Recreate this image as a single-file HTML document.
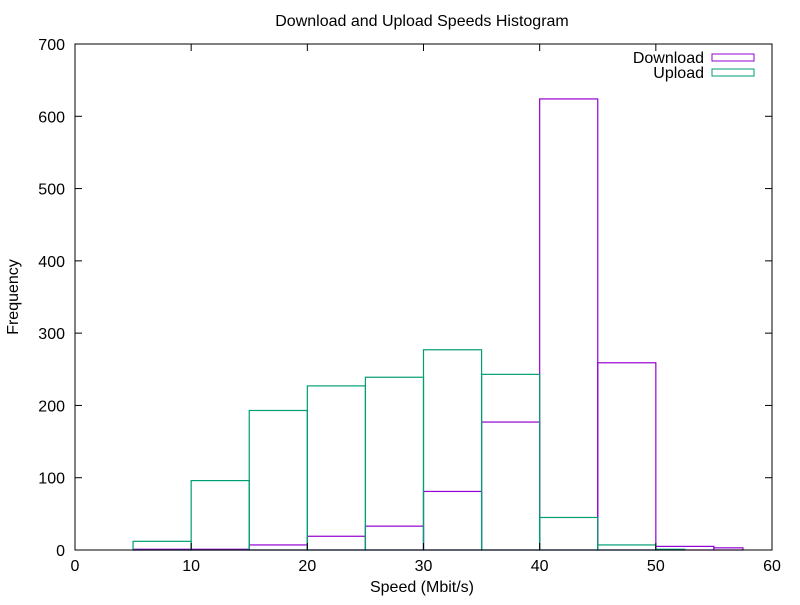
<!DOCTYPE html>
<html><head><meta charset="utf-8"><style>
body{margin:0;background:#fff}
svg text{font-family:"Liberation Sans",sans-serif;font-size:16px;fill:#000}
</style></head><body>
<svg width="800" height="600" xmlns="http://www.w3.org/2000/svg">
<rect width="800" height="600" fill="#fff"/>
<g id="marks"></g>
<g id="axes"></g>
<text x="422" y="26" text-anchor="middle">Download and Upload Speeds Histogram</text>
<text x="422" y="592" text-anchor="middle">Speed (Mbit/s)</text>
<text transform="translate(18,297) rotate(-90)" text-anchor="middle">Frequency</text>
<g>
<text x="704" y="63" text-anchor="end">Download</text>
<rect x="712" y="54" width="42" height="7" fill="none" stroke="#9400d3"/>
<text x="704" y="78" text-anchor="end">Upload</text>
<rect x="712" y="69" width="42" height="7" fill="none" stroke="#009e73"/>
</g>
</svg>
<script>
const dlStart=[5,10,15,20,25,30,35,40,45,50,55];
const dlEnd=[10,15,20,25,30,35,40,45,50,55,57.5];
const dlValues=[1,1,7,19,33,81,177,624,259,5,3];
const ulStart=[5,10,15,20,25,30,35,40,45,50];
const ulEnd=[10,15,20,25,30,35,40,45,50,52.5];
const ulValues=[12,96,193,227,239,277,243,45,7,1];
const xTicks=[0,10,20,30,40,50,60];
const yTicks=[0,100,200,300,400,500,600,700];
const X0=75,X1=772,Y0=550,Y1=44;
const sx=v=>X0+(v-0)/60*(X1-X0);
const sy=v=>Y0-(v/700)*(Y0-Y1);
const NS="http://www.w3.org/2000/svg";
const marks=document.getElementById('marks'),axes=document.getElementById('axes');
function drawSeries(st,en,vals,color,name){
  for(let i=0;i<vals.length;i++){
    const r=document.createElementNS(NS,'rect');
    const x=sx(st[i]),w=sx(en[i])-x,y=sy(vals[i]);
    r.setAttribute('x',x);r.setAttribute('y',y);r.setAttribute('width',w);r.setAttribute('height',Y0-y);
    r.setAttribute('fill','none');r.setAttribute('stroke',color);r.setAttribute('stroke-width','1.2');
    
    
    marks.appendChild(r);
  }
}
drawSeries(dlStart,dlEnd,dlValues,'#9400d3','download');
drawSeries(ulStart,ulEnd,ulValues,'#009e73','upload');
const frame=document.createElementNS(NS,'rect');
frame.setAttribute('x',X0);frame.setAttribute('y',Y1);frame.setAttribute('width',X1-X0);frame.setAttribute('height',Y0-Y1);
frame.setAttribute('fill','none');frame.setAttribute('stroke','#000');


axes.appendChild(frame);
function line(x1,y1,x2,y2){const l=document.createElementNS(NS,'line');l.setAttribute('x1',x1);l.setAttribute('y1',y1);l.setAttribute('x2',x2);l.setAttribute('y2',y2);l.setAttribute('stroke','#000');axes.appendChild(l);return l;}
function text(x,y,s,anchor){const t=document.createElementNS(NS,'text');t.setAttribute('x',x);t.setAttribute('y',y);t.setAttribute('text-anchor',anchor);t.textContent=s;axes.appendChild(t);return t;}
xTicks.forEach(v=>{const x=sx(v);
  const a=line(x,Y0,x,Y0-7);
  const b=line(x,Y1,x,Y1+7);
  const t=text(x,571,String(v),'middle');
  
  
});
yTicks.forEach(v=>{const y=sy(v);
  const a=line(X0,y,X0+7,y);
  const b=line(X1,y,X1-7,y);
  const t=text(65,y+6,String(v),'end');
  
  
});
</script>
</body></html>
